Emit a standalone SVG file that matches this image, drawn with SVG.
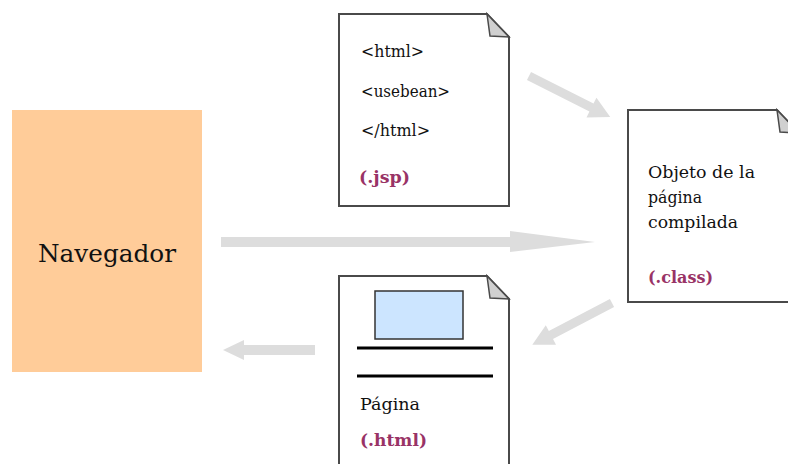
<svg xmlns="http://www.w3.org/2000/svg" width="788" height="464" viewBox="0 0 788 464">
<style>
.doc{fill:#fff;stroke:#4a4a4a;stroke-width:2;stroke-linejoin:miter}
.fold{fill:#d0d0d0;stroke:#4a4a4a;stroke-width:1.5;stroke-linejoin:miter}
.t{font-family:"DejaVu Serif","Liberation Serif",serif;font-size:16px;fill:#111}
.p{font-family:"DejaVu Serif","Liberation Serif",serif;font-size:16px;font-weight:bold;fill:#993366}
.arr{fill:#dddddd}
</style>
<rect width="788" height="464" fill="#fff"/>
<g id="connectors">
  <g class="arr">
    <rect x="221" y="237" width="290" height="10"/>
    <polygon points="510,231 595,242 510,252"/>
  </g>
  <g class="arr" transform="translate(529,76) rotate(26.8)">
    <polygon points="0,-4.5 70,-4.5 70,-11 91,0 70,11 70,4.5 0,4.5"/>
  </g>
  <g class="arr" transform="translate(612,303) rotate(152.3)">
    <polygon points="0,-4.5 69,-4.5 69,-11 90,0 69,11 69,4.5 0,4.5"/>
  </g>
  <g class="arr">
    <rect x="242" y="345" width="73" height="10"/>
    <polygon points="244,340 223,350 244,360"/>
  </g>
</g>
<g id="navegador">
  <rect x="12" y="110" width="190" height="262" fill="#ffcc99"/>
  <text x="107" y="262" text-anchor="middle" font-family="'DejaVu Serif','Liberation Serif',serif" font-size="25" fill="#111" textLength="138" lengthAdjust="spacingAndGlyphs">Navegador</text>
</g>
<g id="jsp">
  <path class="doc" d="M339,14 H487 L509,37 V206 H339 Z"/>
  <path class="fold" d="M487,14 L490,36 L509,37 Z"/>
  <text class="t" x="361" y="57" textLength="63" lengthAdjust="spacingAndGlyphs">&lt;html&gt;</text>
  <text class="t" x="361" y="97" textLength="89" lengthAdjust="spacingAndGlyphs">&lt;usebean&gt;</text>
  <text class="t" x="361" y="136" textLength="69" lengthAdjust="spacingAndGlyphs">&lt;/html&gt;</text>
  <text class="p" x="359" y="183" textLength="51" lengthAdjust="spacingAndGlyphs">(.jsp)</text>
</g>
<g id="class">
  <path class="doc" d="M628,110 H777 L799,133 V302 H628 Z"/>
  <path class="fold" d="M777,110 L780,132 L799,133 Z"/>
  <text class="t" x="648" y="178" textLength="107" lengthAdjust="spacingAndGlyphs">Objeto de la</text>
  <text class="t" x="648" y="203" textLength="54" lengthAdjust="spacingAndGlyphs">página</text>
  <text class="t" x="648" y="228" textLength="90" lengthAdjust="spacingAndGlyphs">compilada</text>
  <text class="p" x="648" y="283" textLength="65" lengthAdjust="spacingAndGlyphs">(.class)</text>
</g>
<g id="html">
  <path class="doc" d="M339,276 H487 L509,299 V470 H339 Z"/>
  <path class="fold" d="M487,276 L490,298 L509,299 Z"/>
  <rect x="375" y="291" width="88" height="48" fill="#cce5ff" stroke="#333" stroke-width="1.5"/>
  <line x1="357" y1="348" x2="493" y2="348" stroke="#000" stroke-width="3"/>
  <line x1="357" y1="376" x2="493" y2="376" stroke="#000" stroke-width="3"/>
  <text class="t" x="360" y="410" textLength="60" lengthAdjust="spacingAndGlyphs">Página</text>
  <text class="p" x="360" y="446" textLength="67" lengthAdjust="spacingAndGlyphs">(.html)</text>
</g>
</svg>
